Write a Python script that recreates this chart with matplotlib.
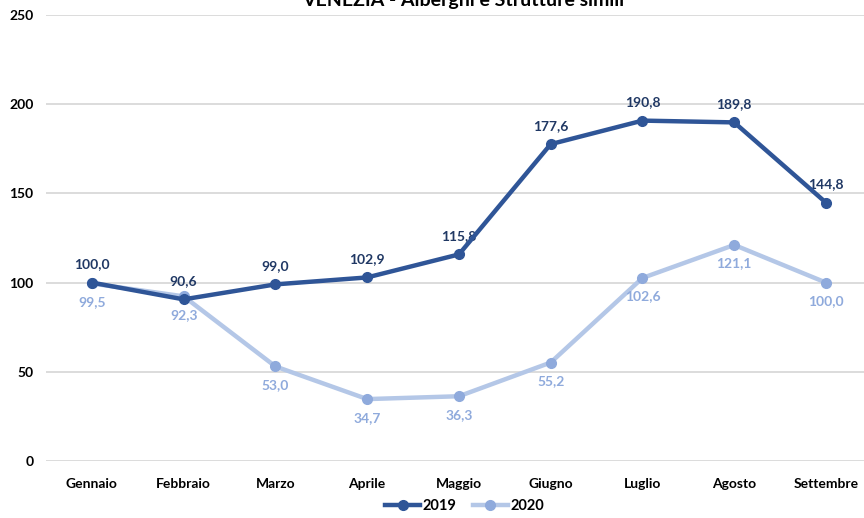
import matplotlib
matplotlib.use('Agg')
import matplotlib.pyplot as plt

plt.rcParams['font.family'] = ['Lato', 'DejaVu Sans']
plt.rcParams['font.weight'] = 'bold'

# Data
mesi = ['Gennaio', 'Febbraio', 'Marzo', 'Aprile', 'Maggio',
        'Giugno', 'Luglio', 'Agosto', 'Settembre']
v2019 = [100.0, 90.6, 99.0, 102.9, 115.8, 177.6, 190.8, 189.8, 144.8]
v2020 = [99.5, 92.3, 53.0, 34.7, 36.3, 55.2, 102.6, 121.1, 100.0]

c2019 = '#2F5597'
c2020_line = '#B4C7E7'
c2020_mark = '#8FAADC'

fig = plt.figure(figsize=(8.64, 5.18), dpi=100)
ax = fig.add_axes([46 / 864, 1 - 461 / 518, (864 - 46) / 864, 446 / 518])

x = list(range(len(mesi)))
ax.plot(x, v2020, color=c2020_line, lw=3.2, marker='o', ms=7,
        mfc=c2020_mark, mec=c2020_mark, label='2020', zorder=3)
ax.plot(x, v2019, color=c2019, lw=3.2, marker='o', ms=7,
        label='2019', zorder=4)

# Data labels
for i, v in enumerate(v2019):
    ax.annotate(f'{v:.1f}'.replace('.', ','), (i, v), xytext=(0, 9),
                textcoords='offset points', ha='center', va='bottom',
                fontsize=10, color='#203864', fontweight='bold')
for i, v in enumerate(v2020):
    ax.annotate(f'{v:.1f}'.replace('.', ','), (i, v), xytext=(0, -9),
                textcoords='offset points', ha='center', va='top',
                fontsize=10, color=c2020_mark, fontweight='bold')

ax.set_ylim(0, 250)
ax.set_yticks([0, 50, 100, 150, 200, 250])
ax.set_xlim(-0.5, 8 + (864 - 826) / 91.75)
ax.set_xticks(x)
ax.set_xticklabels(mesi)
ax.tick_params(axis='both', length=0, labelsize=10, colors='black')
ax.tick_params(axis='x', pad=12)
ax.tick_params(axis='y', pad=9)
ax.grid(axis='y', color='#D9D9D9', lw=1.3)
ax.set_axisbelow(True)
for s in ax.spines.values():
    s.set_visible(False)

fig.text(0.536, 1 - 6 / 518, 'VENEZIA - Alberghi e Strutture simili',
         ha='center', va='baseline', fontsize=14, fontweight='bold')

h, l = ax.get_legend_handles_labels()
fig.legend(h[::-1], l[::-1], loc='center', bbox_to_anchor=(0.538, 12 / 518),
           ncol=2, frameon=False, fontsize=10.5, handlelength=2.4,
           columnspacing=1.1, handletextpad=0.2)

fig.savefig('out.png', dpi=100)
